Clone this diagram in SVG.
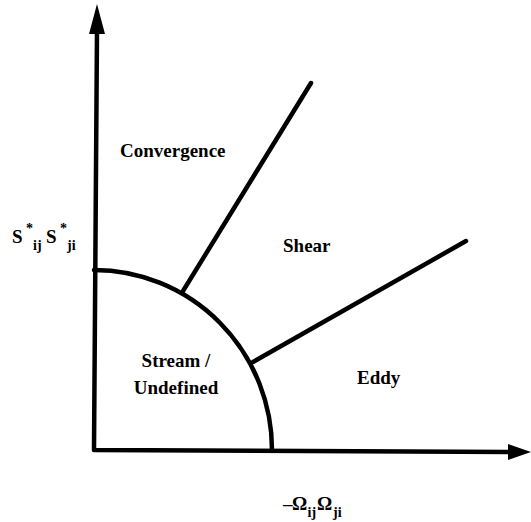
<svg xmlns="http://www.w3.org/2000/svg" width="531" height="522" viewBox="0 0 531 522">
<style>
.ln{fill:none;stroke:#000;stroke-width:4.5;stroke-linecap:round;stroke-linejoin:round}
.ar{fill:#000;stroke:none}
.t{font-family:"Liberation Serif","Times New Roman",serif;font-weight:bold;font-size:19px;fill:#000}
.sub{font-size:14px}
</style>
<rect width="531" height="522" fill="#fff"/>
<g id="connectors">
<path class="ln" d="M97,30 L94,450 L510,452"/>
<polygon class="ar" points="97,4 105,34 89,34"/>
<polygon class="ar" points="531,452 508,444 508,460"/>
<path class="ln" d="M94,270 A178,180 0 0 1 272,450"/>
<path class="ln" d="M183,291 L311,83"/>
<path class="ln" d="M253,362 L466,241"/>
</g>
<g id="convergence"><text class="t" x="120" y="157" font-size="20">Convergence</text></g>
<g id="shear"><text class="t" x="283" y="252">Shear</text></g>
<g id="eddy"><text class="t" x="357" y="384">Eddy</text></g>
<g id="stream"><text class="t" x="176" y="367" text-anchor="middle">Stream /</text><text class="t" x="176" y="394" text-anchor="middle">Undefined</text></g>
<g id="ylabel"><text class="t" font-size="21"><tspan x="12" y="243">S</tspan><tspan x="26" y="233" class="sub">*</tspan><tspan x="33" y="250" class="sub">ij</tspan><tspan x="46" y="243">S</tspan><tspan x="60" y="233" class="sub">*</tspan><tspan x="67" y="250" class="sub">ji</tspan></text></g>
<g id="xlabel"><text class="t"><tspan x="283" y="510">–</tspan><tspan x="292" y="510">Ω</tspan><tspan x="307.5" y="517" class="sub">ij</tspan><tspan x="317" y="510">Ω</tspan><tspan x="333" y="517" class="sub">ji</tspan></text></g>
</svg>
